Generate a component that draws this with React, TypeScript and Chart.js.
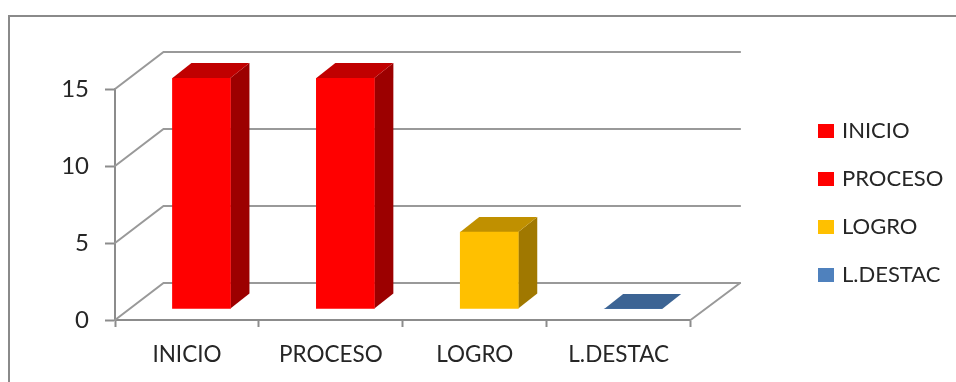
import React, { useEffect, useRef } from "react";
import { Chart, registerables } from "chart.js";

Chart.register(...registerables);

const categories = ["INICIO", "PROCESO", "LOGRO", "L.DESTAC"];
const values = [15, 15, 5, 0];
const yTicksMax = 15;
const yStep = 5;

const frontColors = ["#FF0000", "#FF0000", "#FFC000", "#4F81BD"];
const topColors = ["#C00000", "#C00000", "#C09000", "#3C6494"];
const sideColors = ["#9C0000", "#9C0000", "#A07800", "#30507A"];

const FONT = "Lato, Carlito, sans-serif";
const FONT_SIZE = 22.5;
const LEGEND_FONT_SIZE = 22;
const Y_FONT_SIZE = 24;
const TEXT = "#262626";
const AXIS = "#8C8C8C";
const GRID = "#999999";

const wallDX = 48.5;
const wallDY = -37;
const barShiftX = 14.5;
const barShiftY = -11;
const barDX = 19;
const barDY = -15;

const threeD = {
  id: "threeD",
  afterLayout(chart: any) {
    const l = chart.legend;
    if (!l) return;
    const w = l.width;
    const h = l.height;
    l.left = 795;
    l.right = 795 + w;
    l.top = 94;
    l.bottom = 94 + h;
  },
  beforeDraw(chart: any) {
    const { ctx } = chart;
    ctx.save();
    ctx.fillStyle = "#FFFFFF";
    ctx.fillRect(0, 0, chart.width, chart.height);
    ctx.strokeStyle = "#8A8A8A";
    ctx.lineWidth = 2;
    ctx.strokeRect(9, 16, 1200, 1000);
    ctx.restore();
  },
  beforeDatasetsDraw(chart: any) {
    const { ctx, scales } = chart;
    const x = scales.x;
    const y = scales.y;
    ctx.save();
    ctx.strokeStyle = GRID;
    ctx.lineWidth = 2;
    ctx.lineCap = "round";
    for (const t of y.ticks) {
      const py = y.getPixelForValue(t.value);
      ctx.beginPath();
      ctx.moveTo(x.left, py);
      ctx.lineTo(x.left + wallDX, py + wallDY);
      ctx.lineTo(x.right + wallDX + 1, py + wallDY);
      ctx.stroke();
    }
    const py0 = y.getPixelForValue(0);
    ctx.beginPath();
    ctx.moveTo(x.right, py0);
    ctx.lineTo(x.right + wallDX + 1, py0 + wallDY);
    ctx.stroke();
    ctx.restore();

    const meta = chart.getDatasetMeta(0);
    ctx.save();
    ctx.translate(barShiftX, barShiftY);
    meta.data.forEach((bar: any, i: number) => {
      const l = bar.x - bar.width / 2;
      const r = bar.x + bar.width / 2;
      const top = bar.y;
      const base = bar.base;
      ctx.fillStyle = sideColors[i];
      ctx.beginPath();
      ctx.moveTo(r, top);
      ctx.lineTo(r + barDX, top + barDY);
      ctx.lineTo(r + barDX, base + barDY);
      ctx.lineTo(r, base);
      ctx.closePath();
      if (base - top > 0.5) ctx.fill();
      ctx.fillStyle = topColors[i];
      ctx.beginPath();
      ctx.moveTo(l, top);
      ctx.lineTo(l + barDX, top + barDY);
      ctx.lineTo(r + barDX, top + barDY);
      ctx.lineTo(r, top);
      ctx.closePath();
      ctx.fill();
    });
    // The translation stays active while the library draws the front faces.
  },
  afterDatasetsDraw(chart: any) {
    chart.ctx.restore();
  },
};

export default function App() {
  const ref = useRef<HTMLCanvasElement>(null);

  useEffect(() => {
    document.body.style.margin = "0";
    document.body.style.background = "#FFFFFF";
    const chart = new Chart(ref.current as HTMLCanvasElement, {
      type: "bar",
      data: {
        labels: categories,
        datasets: [
          {
            data: values,
            backgroundColor: frontColors,
            borderWidth: 0,
            barThickness: 58,
          },
        ],
      },
      options: {
        responsive: false,
        animation: false,
        devicePixelRatio: 1,
        layout: { padding: { left: 55, right: 107, top: 89, bottom: 12 } },
        plugins: {
          tooltip: { enabled: false },
          title: { display: false },
          legend: {
            display: true,
            position: "right",
            align: "start",
            labels: {
              boxWidth: 10,
              boxHeight: 8,
              padding: 26,
              color: TEXT,
              font: { family: FONT, size: LEGEND_FONT_SIZE },
              generateLabels: (c: any) =>
                c.data.labels.map((text: string, i: number) => ({
                  text,
                  fillStyle: frontColors[i],
                  strokeStyle: frontColors[i],
                  lineWidth: 6,
                  lineJoin: "miter",
                  index: i,
                  fontColor: TEXT,
                })),
            },
          },
        },
        scales: {
          x: {
            offset: true,
            afterFit: (s: any) => {
              s.height = 50;
            },
            grid: {
              offset: true,
              drawOnChartArea: false,
              drawTicks: true,
              tickLength: 7,
              tickWidth: 2,
              tickColor: AXIS,
            },
            border: { display: true, color: AXIS, width: 2 },
            ticks: {
              color: TEXT,
              padding: 14,
              maxRotation: 0,
              autoSkip: false,
              font: { family: FONT, size: FONT_SIZE },
            },
          },
          y: {
            min: 0,
            max: yTicksMax,
            afterFit: (s: any) => {
              s.width = 60;
            },
            grid: {
              drawOnChartArea: false,
              drawTicks: true,
              tickLength: 10,
              tickWidth: 2,
              tickColor: AXIS,
            },
            border: { display: true, color: AXIS, width: 2 },
            ticks: {
              stepSize: yStep,
              color: TEXT,
              padding: 16,
              font: { family: FONT, size: Y_FONT_SIZE },
            },
          },
        },
      },
      plugins: [threeD],
    } as any);
    return () => chart.destroy();
  }, []);

  return (
    <div style={{ width: 956, height: 382 }}>
      <canvas ref={ref} width={956} height={382} style={{ display: "block" }} />
    </div>
  );
}
